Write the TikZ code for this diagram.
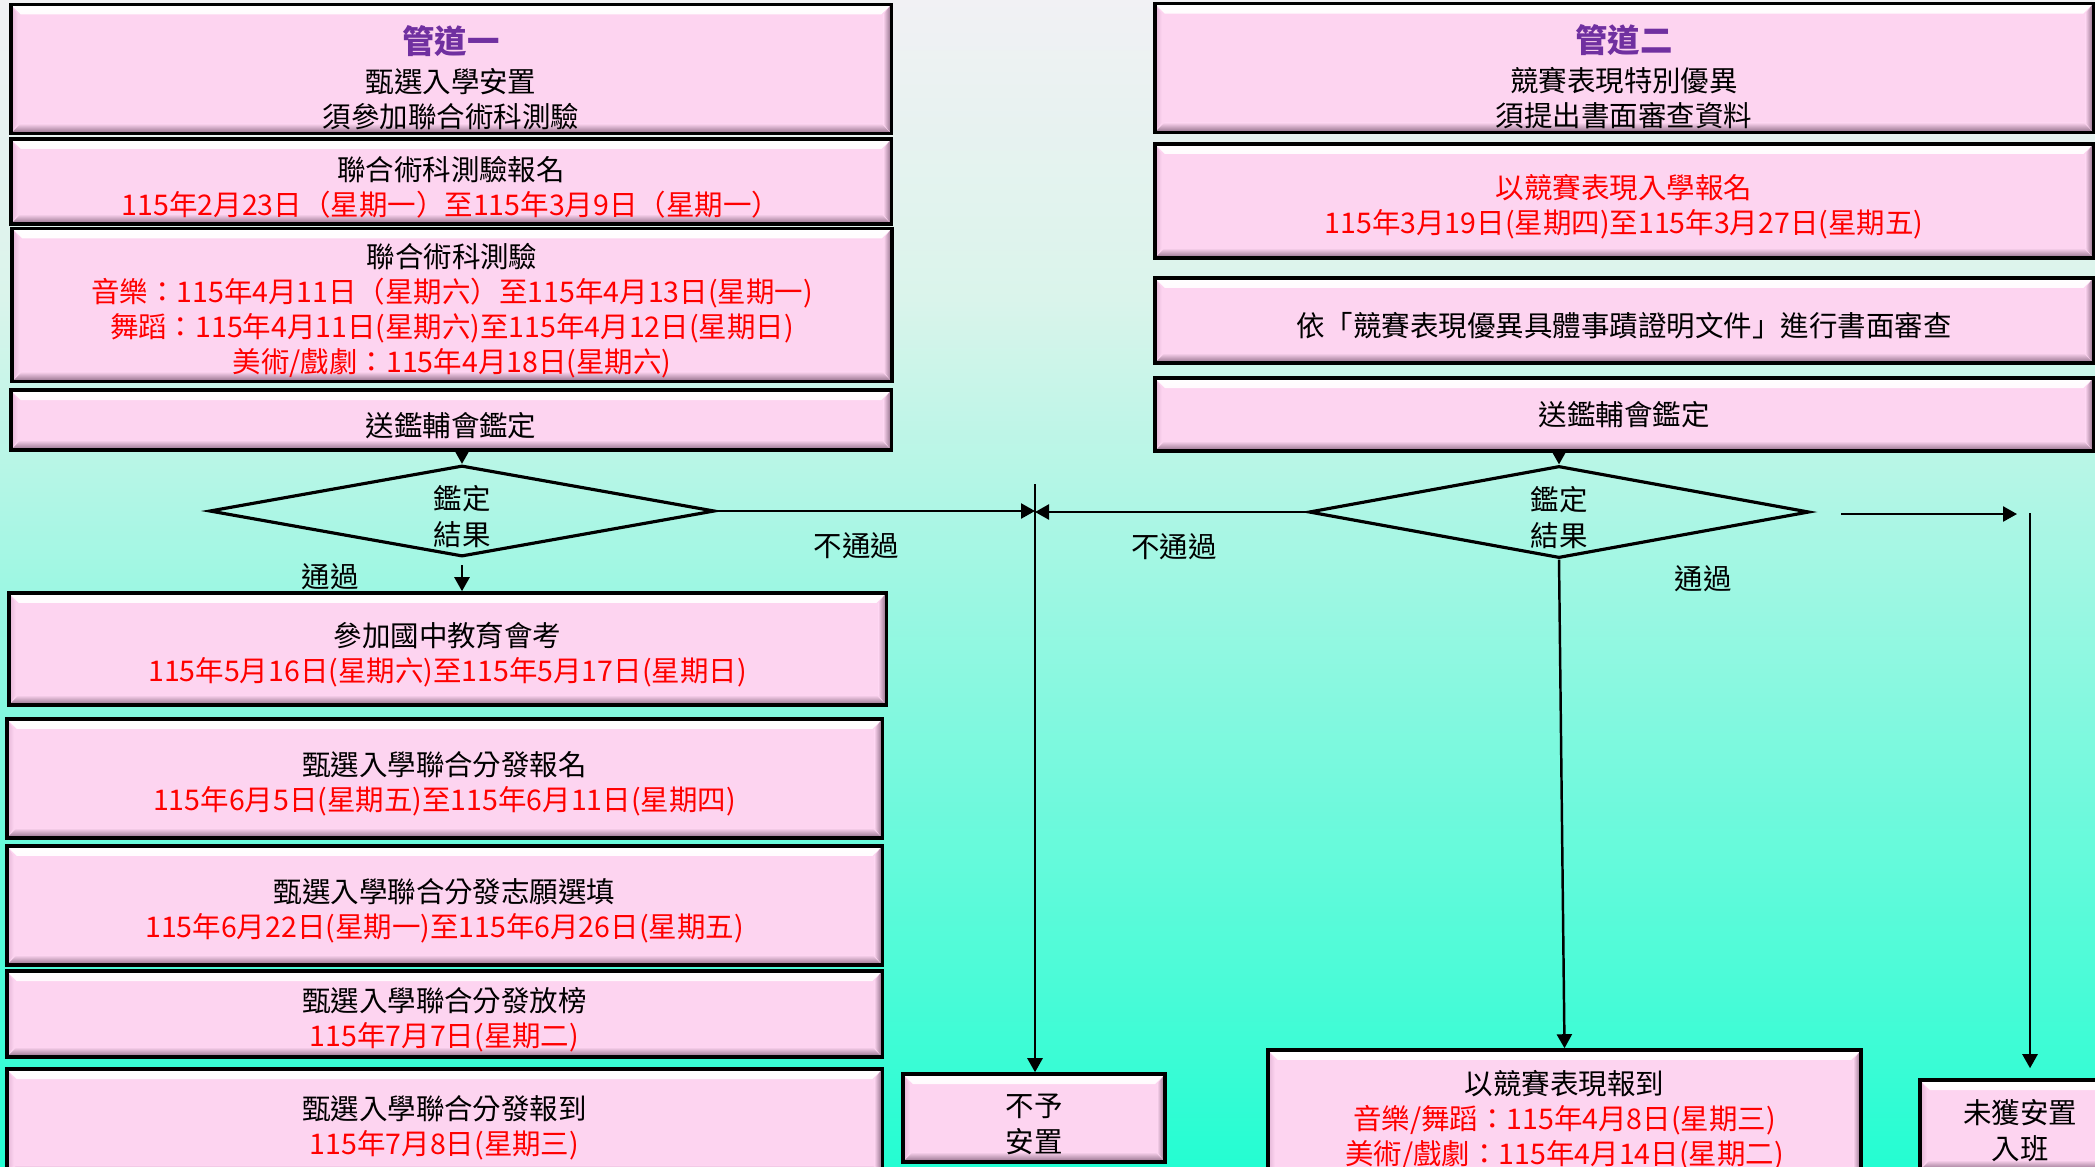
\documentclass[tikz,border=0pt]{standalone}
\usepackage{fontspec}
\usetikzlibrary{arrows.meta,shapes.geometric}
\newfontfamily\cjk{Noto Sans CJK TC}
\definecolor{boxpink}{RGB}{253,212,240}
\definecolor{bevdark}{RGB}{140,106,132}
\definecolor{bevleft}{RGB}{226,180,212}
\definecolor{datered}{RGB}{255,0,0}
\definecolor{titlepurple}{RGB}{112,48,160}
\definecolor{bgtop}{RGB}{241,241,244}
\definecolor{bgmid}{RGB}{218,244,235}
\definecolor{bgbot}{RGB}{36,253,210}
\newcommand{\boxfont}{\cjk\fontsize{8.1}{10}\selectfont}
\newcommand{\datetxt}[1]{\textcolor{datered}{#1}}
\newcommand{\titletxt}[1]{{\color{titlepurple}\bfseries\fontsize{9.2}{11}\selectfont #1}}
\newcommand{\topgap}{\rule{0pt}{10pt}}

\begin{document}
\begin{tikzpicture}[x=0.01cm,y=-0.01cm,>={Triangle[length=1.4mm,width=1.5mm]},
  pbox/.style={draw=black,line width=1pt,fill=boxpink,align=center,font=\boxfont,inner sep=1pt,
    path picture={
      \shade[top color=white,bottom color=boxpink]
        (path picture bounding box.north west) -- (path picture bounding box.north east)
        -- ([shift={(-0.1cm,-0.1cm)}]path picture bounding box.north east)
        -- ([shift={(0.1cm,-0.1cm)}]path picture bounding box.north west) -- cycle;
      \shade[top color=boxpink,bottom color=bevdark]
        (path picture bounding box.south west) -- ([shift={(0.1cm,0.1cm)}]path picture bounding box.south west)
        -- ([shift={(-0.1cm,0.1cm)}]path picture bounding box.south east) -- (path picture bounding box.south east) -- cycle;
      \shade[left color=boxpink,right color=bevdark]
        (path picture bounding box.north east) -- ([shift={(-0.08cm,-0.1cm)}]path picture bounding box.north east)
        -- ([shift={(-0.08cm,0.1cm)}]path picture bounding box.south east) -- (path picture bounding box.south east) -- cycle;
      \shade[left color=bevleft,right color=boxpink]
        (path picture bounding box.north west) -- ([shift={(0.07cm,-0.1cm)}]path picture bounding box.north west)
        -- ([shift={(0.07cm,0.1cm)}]path picture bounding box.south west) -- (path picture bounding box.south west) -- cycle;
    }},
  decision/.style={diamond,draw=black,line width=0.9pt,aspect=5.5,inner sep=0pt,
    minimum width=5.05cm,minimum height=0.91cm,font=\boxfont,align=center},
  link/.style={->,line width=0.7pt},
  lbl/.style={font=\boxfont,inner sep=0pt}]
  \useasboundingbox (0,0) rectangle (2095,1166);
  \clip (0,0) rectangle (2095,1166);
  \shade[top color=bgtop,bottom color=bgmid] (0,0) rectangle (2095,300);
  \shade[top color=bgmid,bottom color=bgbot] (0,299) rectangle (2095,1166);

  % 管道一
  \node[pbox,minimum width=8.8cm,minimum height=1.22cm] (a1) at (451,69)
    {\rule{0pt}{13pt}\titletxt{管道一}\\[1pt]甄選入學安置\\須參加聯合術科測驗};
  \node[pbox,minimum width=8.8cm,minimum height=0.85cm] (a2) at (451,181.5)
    {\topgap 聯合術科測驗報名\\\datetxt{115年2月23日（星期一）至115年3月9日（星期一）}};
  \node[pbox,minimum width=8.79cm,minimum height=1.48cm] (a3) at (452,305)
    {\topgap 聯合術科測驗\\\datetxt{音樂：115年4月11日（星期六）至115年4月13日(星期一)}\\
     \datetxt{舞蹈：115年4月11日(星期六)至115年4月12日(星期日)}\\
     \datetxt{美術/戲劇：115年4月18日(星期六)}};
  \node[pbox,minimum width=8.8cm,minimum height=0.6cm] (a4) at (451,420) {\topgap 送鑑輔會鑑定};
  \node[decision] (d1) at (462,511) {\topgap 鑑定\\結果};
  \node[pbox,minimum width=8.77cm,minimum height=1.12cm] (a5) at (447.5,649)
    {\topgap 參加國中教育會考\\\datetxt{115年5月16日(星期六)至115年5月17日(星期日)}};
  \node[pbox,minimum width=8.75cm,minimum height=1.19cm] (a6) at (444.5,778.5)
    {\topgap 甄選入學聯合分發報名\\\datetxt{115年6月5日(星期五)至115年6月11日(星期四)}};
  \node[pbox,minimum width=8.75cm,minimum height=1.19cm] (a7) at (444.5,905.5)
    {\topgap 甄選入學聯合分發志願選填\\\datetxt{115年6月22日(星期一)至115年6月26日(星期五)}};
  \node[pbox,minimum width=8.75cm,minimum height=0.86cm] (a8) at (444.5,1014)
    {\topgap 甄選入學聯合分發放榜\\\datetxt{115年7月7日(星期二)}};
  \node[pbox,minimum width=8.75cm,minimum height=1.06cm] (a9) at (444.5,1122)
    {\topgap 甄選入學聯合分發報到\\\datetxt{115年7月8日(星期三)}};

  % 管道二
  \node[pbox,minimum width=9.38cm,minimum height=1.24cm] (r1) at (1624,68)
    {\rule{0pt}{13pt}\titletxt{管道二}\\[1pt]競賽表現特別優異\\須提出書面審查資料};
  \node[pbox,minimum width=9.38cm,minimum height=1.14cm] (r2) at (1624,201)
    {\topgap\datetxt{以競賽表現入學報名}\\\datetxt{115年3月19日(星期四)至115年3月27日(星期五)}};
  \node[pbox,minimum width=9.38cm,minimum height=0.85cm] (r3) at (1624,320.5)
    {\topgap 依「競賽表現優異具體事蹟證明文件」進行書面審查};
  \node[pbox,minimum width=9.38cm,minimum height=0.73cm] (r4) at (1624,414.5) {送鑑輔會鑑定};
  \node[decision,minimum width=5cm,minimum height=0.92cm] (d2) at (1559,512) {\topgap 鑑定\\結果};

  % 結果
  \node[pbox,minimum width=2.62cm,minimum height=0.88cm] (n1) at (1034,1118) {\topgap 不予\\安置};
  \node[pbox,minimum width=5.93cm,minimum height=1.3cm] (n2) at (1564.5,1115)
    {\topgap 以競賽表現報到\\\datetxt{音樂/舞蹈：115年4月8日(星期三)}\\\datetxt{美術/戲劇：115年4月14日(星期二)}};
  \node[pbox,minimum width=2cm,minimum height=0.9cm] (n3) at (2020,1125) {\topgap 未獲安置\\入班};

  \coordinate (vtop) at (1035,484);
  \coordinate (fstart) at (1841,514);
  \coordinate (fend) at (2017,514);
  \coordinate (rtop) at (2030,513);

  \path (d1.north |- a4.south) edge[link] (d1.north)
        ([yshift=-2pt]d1.south) edge[link] (d1.south |- a5.north)
        (d1.east) edge[link] node[lbl,pos=0.44,below=0.2cm] (lfail) {不通過} (vtop |- d1.east);
  \node[lbl] (lpass) at (330,577) {通過};

  \path (d2.north |- r4.south) edge[link] (d2.north)
        (d2.south) edge[link] (n2.north)
        (d2.west) edge[link] node[lbl,pos=0.49,below=0.2cm] (rfail) {不通過} (vtop |- d2.west);
  \node[lbl] (rpass) at (1703,579) {通過};

  \path (vtop) edge[link] (vtop |- n1.north)
        (fstart) edge[link] (fend)
        (rtop) edge[link,shorten >=0.1cm] (rtop |- n3.north);
\end{tikzpicture}
\end{document}
